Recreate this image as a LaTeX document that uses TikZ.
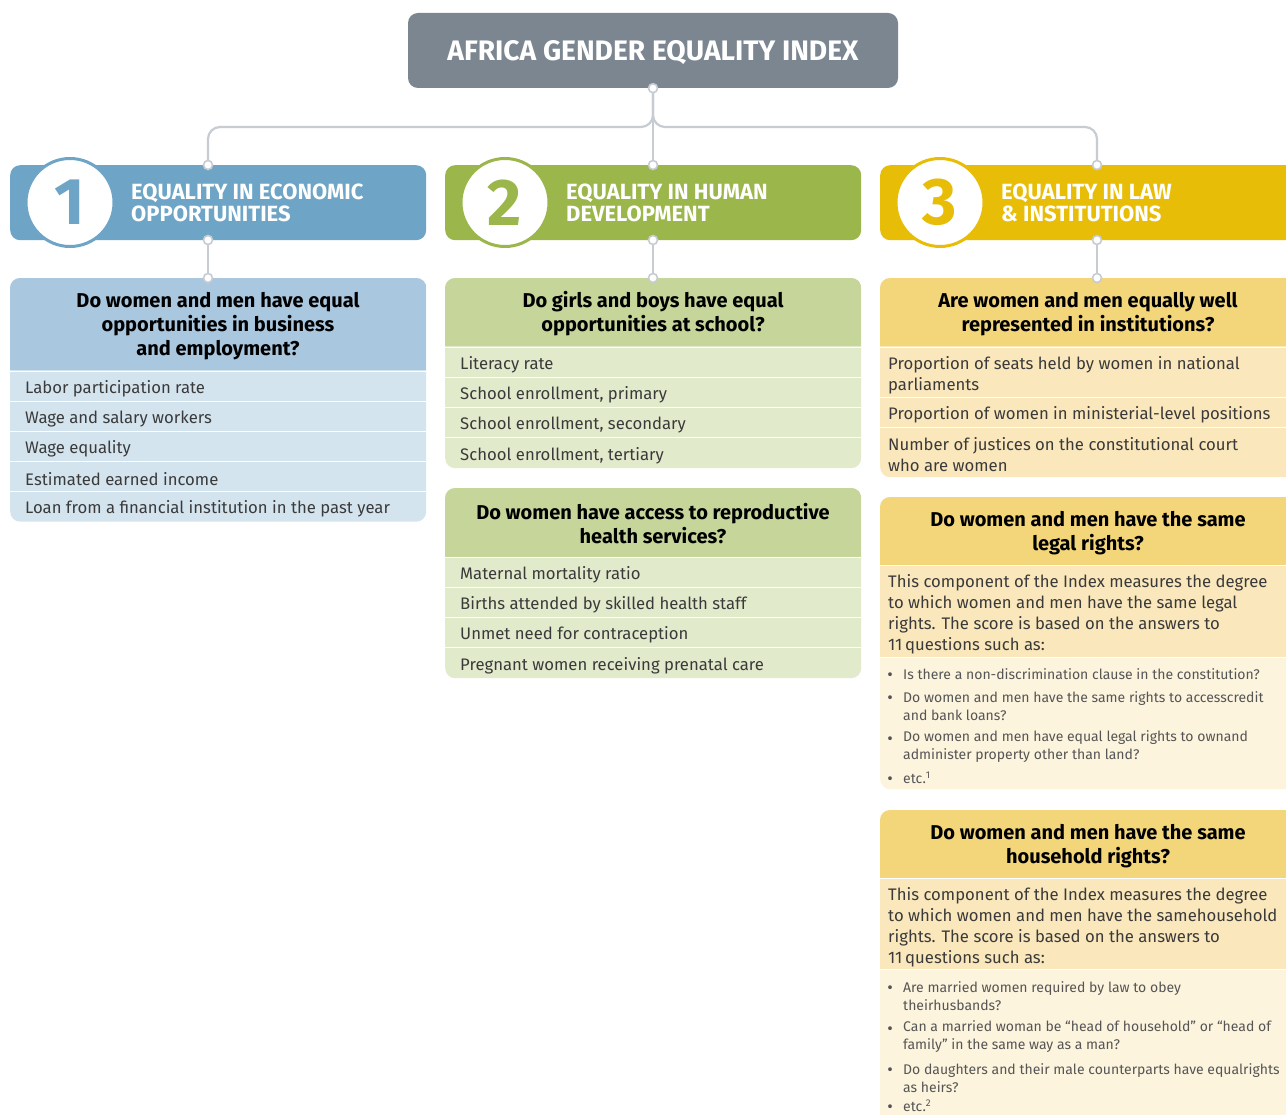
\documentclass[tikz,border=0pt]{standalone}
\usepackage{fontspec}
\setmainfont{Fira Sans}
\definecolor{titleg}{HTML}{7B8690}
\definecolor{lineg}{HTML}{C6CCD2}
\definecolor{blueA}{HTML}{6EA5C6}
\definecolor{blueB}{HTML}{A9C7DF}
\definecolor{blueC}{HTML}{D4E4EF}
\definecolor{greenA}{HTML}{9BB64A}
\definecolor{greenB}{HTML}{C6D69A}
\definecolor{greenC}{HTML}{E2EACC}
\definecolor{yelA}{HTML}{E8BD07}
\definecolor{yelB}{HTML}{F3D67A}
\definecolor{yelC}{HTML}{FAE8BC}
\definecolor{yelD}{HTML}{FDF4DE}
\definecolor{txt}{HTML}{3A3A3A}
\definecolor{btxt}{HTML}{555555}
\tikzset{
  conn/.style={draw=lineg, line width=2.2pt, rounded corners=12pt},
  dot/.style={circle, draw=lineg, fill=white, line width=1.6pt, inner sep=0pt, minimum size=9pt},
  boxbase/.style={rectangle, draw=none, rounded corners=10pt, inner sep=0pt, anchor=north west},
  sep/.style={draw=white, line width=1.8pt},
  rowtxt/.style={anchor=west, align=left, inner sep=0pt, text=txt, font=\fontsize{16.7}{21}\selectfont},
  bultxt/.style={anchor=west, align=left, inner sep=0pt, text=btxt, font=\fontsize{14}{18}\selectfont},
  bdot/.style={anchor=center, inner sep=0pt, text=btxt, font=\fontsize{17}{18}\selectfont},
  qtxt/.style={align=center, inner sep=0pt, text=black, font=\bfseries\fontsize{20}{24}\selectfont},
  cattxt/.style={anchor=west, align=left, inner sep=0pt, text=white, font=\bfseries\fontsize{22}{22}\selectfont},
  numcirc/.style={circle, fill=white, line width=3pt, minimum size=88pt, inner sep=0pt, font=\bfseries\fontsize{66}{66}\selectfont},
}
\begin{document}
\begin{tikzpicture}[x=1pt,y=-1pt]
\clip (0,0) rectangle (1286,1115);
\fill[white] (0,0) rectangle (1286,1115);

% ---------- title ----------
\node[boxbase, fill=titleg, minimum width=490pt, minimum height=75pt, anchor=center] (title) at (653,50.5) {};
\node[inner sep=0pt, text=white, font=\bfseries\fontsize{28.2}{30}\selectfont] (titletxt) at (653,53) {AFRICA GENDER EQUALITY INDEX};

% ---------- category boxes ----------
\node[boxbase, fill=blueA, minimum width=416pt, minimum height=75pt] (cat1) at (10,165) {};
\node[boxbase, fill=greenA, minimum width=416pt, minimum height=75pt] (cat2) at (445,165) {};
\node[boxbase, fill=yelA, minimum width=416pt, minimum height=75pt] (cat3) at (880,165) {};

\node[numcirc, draw=blueA, text=blueA] (n1) at (70,202.5) {1};
\node[numcirc, draw=greenA, text=greenA] (n2) at (505,202.5) {2};
\node[numcirc, draw=yelA, text=yelA] (n3) at (940,202.5) {3};

\node[cattxt] (c1t) at (131,203) {EQUALITY IN ECONOMIC\\OPPORTUNITIES};
\node[cattxt] (c2t) at (566,203) {EQUALITY IN HUMAN\\DEVELOPMENT};
\node[cattxt] (c3t) at (1001,203) {EQUALITY IN LAW\\\& INSTITUTIONS};

% ---------- attachment coordinates ----------
\coordinate (a1t) at (208,165);
\coordinate (a2t) at (653,165);
\coordinate (a3t) at (1097,165);
\coordinate (a1b) at (208,240);
\coordinate (a2b) at (653,240);
\coordinate (a3b) at (1097,240);
\coordinate (b1) at (208,278);
\coordinate (b2) at (653,278);
\coordinate (b3) at (1097,278);

% ---------- connectors ----------
\draw[conn] (a1t) -- (a1t |- 0,127) -- (title.south |- 0,127) -- (title.south);
\draw[conn] (a3t) -- (a3t |- 0,127) -- (title.south |- 0,127) -- (title.south);
\draw[conn] (title.south) -- (a2t);
\draw[conn] (a1b) -- (b1);
\draw[conn] (a2b) -- (b2);
\draw[conn] (a3b) -- (b3);

% ---------- column 1 ----------
\node[boxbase, fill=blueC, minimum width=416pt, minimum height=243.5pt] (q1) at (10,278) {};
\begin{scope}
\clip[rounded corners=10pt] (q1.north west) rectangle (q1.south east);
\fill[blueB] (10,278) rectangle (426,370.5);
\foreach \yy in {371.5,401.5,431.5,461.5,491.5} \draw[sep] (10,\yy) -- (426,\yy);
\end{scope}
\node[qtxt] (q1h) at (218,326) {Do women and men have equal\\opportunities in business\\and employment?};
\node[rowtxt] (r11) at (25,388.5) {Labor participation rate};
\node[rowtxt] (r12) at (25,419) {Wage and salary workers};
\node[rowtxt] (r13) at (25,449) {Wage equality};
\node[rowtxt] (r14) at (25,479) {Estimated earned income};
\node[rowtxt] (r15) at (25,509) {Loan from a financial institution in the past year};

% ---------- column 2, box 1 ----------
\node[boxbase, fill=greenC, minimum width=416pt, minimum height=190pt] (q2) at (445,278) {};
\begin{scope}
\clip[rounded corners=10pt] (q2.north west) rectangle (q2.south east);
\fill[greenB] (445,278) rectangle (861,346.5);
\foreach \yy in {347.5,377.5,407.5,437.5} \draw[sep] (445,\yy) -- (861,\yy);
\end{scope}
\node[qtxt] (q2h) at (653,314) {Do girls and boys have equal\\opportunities at school?};
\node[rowtxt] (r21) at (460,364.5) {Literacy rate};
\node[rowtxt] (r22) at (460,395) {School enrollment, primary};
\node[rowtxt] (r23) at (460,425) {School enrollment, secondary};
\node[rowtxt] (r24) at (460,455.5) {School enrollment, tertiary};

% ---------- column 2, box 2 ----------
\node[boxbase, fill=greenC, minimum width=416pt, minimum height=190pt] (q3) at (445,488) {};
\begin{scope}
\clip[rounded corners=10pt] (q3.north west) rectangle (q3.south east);
\fill[greenB] (445,488) rectangle (861,556.5);
\foreach \yy in {557.5,587.5,617.5,647.5} \draw[sep] (445,\yy) -- (861,\yy);
\end{scope}
\node[qtxt] (q3h) at (653,524) {Do women have access to reproductive\\health services?};
\node[rowtxt] (r31) at (460,574.5) {Maternal mortality ratio};
\node[rowtxt] (r32) at (460,604.5) {Births attended by skilled health staff};
\node[rowtxt] (r33) at (460,634.5) {Unmet need for contraception};
\node[rowtxt] (r34) at (460,665.5) {Pregnant women receiving prenatal care};

% ---------- column 3, box 1 ----------
\node[boxbase, fill=yelC, minimum width=416pt, minimum height=199pt] (q4) at (880,278) {};
\begin{scope}
\clip[rounded corners=10pt] (q4.north west) rectangle (q4.south east);
\fill[yelB] (880,278) rectangle (1296,346.5);
\foreach \yy in {347.5,397.5,427.5} \draw[sep] (880,\yy) -- (1296,\yy);
\end{scope}
\node[qtxt] (q4h) at (1088,314) {Are women and men equally well\\represented in institutions?};
\node[rowtxt] (r41) at (888,375) {Proportion of seats held by women in national\\parliaments};
\node[rowtxt] (r42) at (888,414.5) {Proportion of women in ministerial-level positions};
\node[rowtxt] (r43) at (888,455) {Number of justices on the constitutional court\\who are women};

% ---------- column 3, box 2 ----------
\node[boxbase, fill=yelD, minimum width=416pt, minimum height=292pt] (q5) at (880,497) {};
\begin{scope}
\clip[rounded corners=10pt] (q5.north west) rectangle (q5.south east);
\fill[yelB] (880,497) rectangle (1296,565);
\fill[yelC] (880,566) rectangle (1296,657);
\draw[sep] (880,565.5) -- (1296,565.5);
\draw[sep] (880,657.5) -- (1296,657.5);
\end{scope}
\node[qtxt] (q5h) at (1088,533) {Do women and men have the same\\legal rights?};
\node[rowtxt] (p5) at (888,614.5) {This component of the Index measures the degree\\to which women and men have the same legal\\rights. The score is based on the answers to\\11\,questions such as:};
\node[bdot] (d51) at (890,677) {•};
\node[bultxt] (b51) at (903,674) {Is there a non-discrimination clause in the constitution?};
\node[bdot] (d52) at (890,700) {•};
\node[bultxt] (b52) at (903,706) {Do women and men have the same rights to accesscredit\\and bank loans?};
\node[bdot] (d53) at (890,741) {•};
\node[bultxt] (b53) at (903,747) {Do women and men have equal legal rights to ownand\\administer property other than land?};
\node[bdot] (d54) at (890,781) {•};
\node[bultxt] (b54) at (903,778) {etc.\textsuperscript{1}};

% ---------- column 3, box 3 ----------
\node[boxbase, fill=yelD, minimum width=416pt, minimum height=330pt] (q6) at (880,810) {};
\begin{scope}
\clip[rounded corners=10pt] (q6.north west) rectangle (q6.south east);
\fill[yelB] (880,810) rectangle (1296,878);
\fill[yelC] (880,879) rectangle (1296,969);
\draw[sep] (880,878.5) -- (1296,878.5);
\draw[sep] (880,969.5) -- (1296,969.5);
\end{scope}
\node[qtxt] (q6h) at (1088,846) {Do women and men have the same\\household rights?};
\node[rowtxt] (p6) at (888,927.5) {This component of the Index measures the degree\\to which women and men have the samehousehold\\rights. The score is based on the answers to\\11\,questions such as:};
\node[bdot] (d61) at (890,990) {•};
\node[bultxt] (b61) at (903,996) {Are married women required by law to obey\\theirhusbands?};
\node[bdot] (d62) at (890,1031) {•};
\node[bultxt] (b62) at (903,1037) {Can a married woman be “head of household” or “head of\\family” in the same way as a man?};
\node[bdot] (d63) at (890,1072) {•};
\node[bultxt] (b63) at (903,1078) {Do daughters and their male counterparts have equalrights\\as heirs?};
\node[bdot] (d64) at (890,1108.5) {•};
\node[bultxt] (b64) at (903,1105.5) {etc.\textsuperscript{2}};

% ---------- dots ----------
\node[dot] (o0) at (title.south) {};
\node[dot] (o1) at (a1t) {};
\node[dot] (o2) at (a2t) {};
\node[dot] (o3) at (a3t) {};
\node[dot] (o4) at (a1b) {};
\node[dot] (o5) at (a2b) {};
\node[dot] (o6) at (a3b) {};
\node[dot] (o7) at (b1) {};
\node[dot] (o8) at (b2) {};
\node[dot] (o9) at (b3) {};
\end{tikzpicture}
\end{document}
